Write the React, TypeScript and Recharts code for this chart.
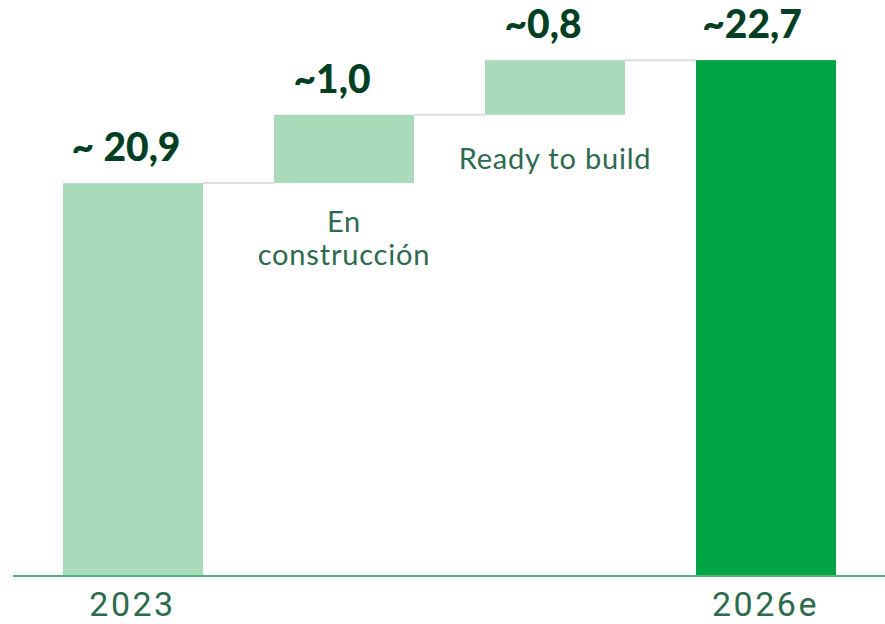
import { BarChart, Bar, XAxis, YAxis, Cell, LabelList } from "recharts";

// waterfall data
const categories = ["2023", "En construcción", "Ready to build", "2026e"];
const values = [20.9, 1.0, 0.8, 22.7];
const isTotal = [true, false, false, true];
const valueLabels = ["~ 20,9", "~1,0", "~0,8", "~22,7"];
const tickLabels = ["2023", "", "", "2026e"];
const descLines = [[], ["En", "construcción"], ["Ready to build"], []];
const colors = ["#a9dbbb", "#a9dbbb", "#a9dbbb", "#00a443"];

const yMin = 15.15;
const yMax = 23.58;

let running = 0;
const data = categories.map((name, i) => {
  let range: [number, number];
  if (isTotal[i]) {
    range = [yMin, values[i]];
    running = values[i];
  } else {
    range = [running, running + values[i]];
    running += values[i];
  }
  return {
    name,
    range,
    label: valueLabels[i],
    tick: tickLabels[i],
    desc: descLines[i],
    idx: i,
  };
});

const GAP = 71;

const WaterfallBar = (props: any) => {
  const { x, y, width, height, fill, index } = props;
  return (
    <g>
      <rect x={x} y={y} width={width} height={height} fill={fill} />
      {index < data.length - 1 && (
        <line x1={x + width} x2={x + width + GAP} y1={y} y2={y} stroke="#dedede" strokeWidth={2} />
      )}
    </g>
  );
};

const ValueLabel = (props: any) => {
  const { x, y, width, value, index } = props;
  const shift = index === 3 ? -14 : index === 0 ? -7 : -12;
  return (
    <text
      x={x + width / 2 + shift}
      y={y - 22}
      textAnchor="middle"
      fill="#003f24"
      fontFamily="Lato, 'Noto Sans', sans-serif"
      fontWeight={900}
      fontSize={39}
    >
      {value}
    </text>
  );
};

const DescLabel = (props: any) => {
  const { x, y, width, height, index } = props;
  const lines = data[index].desc;
  if (!lines.length) return null;
  const startY = lines.length > 1 ? y + height + 49 : y + height + 54;
  return (
    <text
      textAnchor="middle"
      fill="#2d6a4f"
      fontFamily="Lato, 'Noto Sans', sans-serif"
      fontSize={29}
      letterSpacing={0.8}
    >
      {lines.map((l: string, k: number) => (
        <tspan key={k} x={x + width / 2} y={startY + k * 33}>
          {l}
        </tspan>
      ))}
    </text>
  );
};

const Tick = (props: any) => {
  const { x, payload, index } = props;
  return (
    <text
      x={x}
      y={616}
      textAnchor="middle"
      fill="#2c6b4e"
      fontFamily="Roboto, sans-serif"
      fontSize={34}
      letterSpacing={2.5}
    >
      {tickLabels[index] ?? payload.value}
    </text>
  );
};

export default function App() {
  return (
    <div style={{ position: "absolute", left: 0, top: 0, background: "#fff" }}>
      <BarChart
        width={885}
        height={624}
        data={data}
        margin={{ top: 0, right: 0, bottom: 0, left: 13 }}
        barCategoryGap={71}
      >
        <XAxis
          dataKey="name"
          height={48}
          axisLine={{ stroke: "#4cb877", strokeWidth: 2 }}
          tickLine={false}
          tick={<Tick />}
          interval={0}
          padding={{ left: 14, right: 14 }}
        />
        <YAxis hide domain={[yMin, yMax]} allowDataOverflow />
        <Bar dataKey="range" barSize={140} shape={<WaterfallBar />} isAnimationActive={false}>
          {data.map((d, i) => (
            <Cell key={`cell-${i}`} fill={colors[i]} />
          ))}
          <LabelList dataKey="label" content={<ValueLabel />} />
          <LabelList dataKey="idx" content={<DescLabel />} />
        </Bar>
      </BarChart>
    </div>
  );
}
